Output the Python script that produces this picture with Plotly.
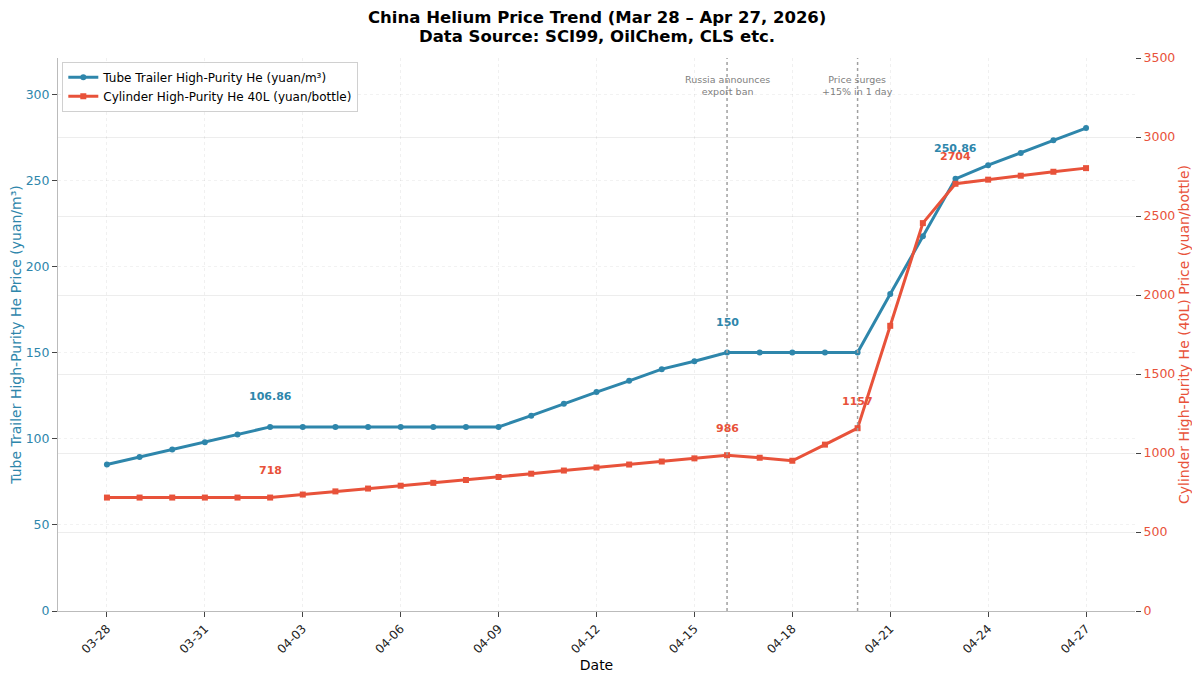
import plotly.graph_objects as go

# dates 03-28 .. 04-27 (2026)
dates = (["2026-03-%02d" % d for d in range(28, 32)]
         + ["2026-04-%02d" % d for d in range(1, 28)])

tube_price = [85.0, 89.4, 93.7, 98.0, 102.5, 106.86,
              106.86, 106.86, 106.86, 106.86, 106.86, 106.86, 106.86,
              113.4, 120.3, 127.1, 133.6, 140.4, 145.0,
              150, 150, 150, 150, 150,
              184.0, 217.5, 250.86, 258.8, 265.8, 273.2, 280.3]

cyl_price = [718, 718, 718, 718, 718, 718,
             737, 757, 775, 793, 811, 829, 848, 869, 889,
             908, 927, 946, 966, 986, 970, 951, 1053, 1157,
             1805, 2455, 2704, 2730, 2755, 2780, 2803]

tube_labels = {"2026-04-02": "106.86", "2026-04-16": "150", "2026-04-23": "250.86"}
cyl_labels = {"2026-04-02": "718", "2026-04-16": "986", "2026-04-20": "1157",
              "2026-04-23": "2704"}

event_dates = ["2026-04-16", "2026-04-20"]
event_texts = ["Russia announces<br>export ban", "Price surges<br>+15% in 1 day"]

BLUE = "#2E86AB"
RED = "#E8523A"
FONT = "DejaVu Sans"

fig = go.Figure()
fig.add_trace(go.Scatter(
    x=dates, y=tube_price, mode="lines+markers",
    name="Tube Trailer High-Purity He (yuan/m³)",
    line=dict(color=BLUE, width=3),
    marker=dict(symbol="circle", size=6, color=BLUE),
))
fig.add_trace(go.Scatter(
    x=dates, y=cyl_price, mode="lines+markers", yaxis="y2",
    name="Cylinder High-Purity He 40L (yuan/bottle)",
    line=dict(color=RED, width=3),
    marker=dict(symbol="square", size=6, color=RED),
))

annotations = []
for d, txt in tube_labels.items():
    annotations.append(dict(x=d, y=tube_price[dates.index(d)], xref="x", yref="y",
                            text="<b>%s</b>" % txt, showarrow=False, yshift=30,
                            font=dict(family=FONT, size=11, color=BLUE)))
for d, txt in cyl_labels.items():
    annotations.append(dict(x=d, y=cyl_price[dates.index(d)], xref="x", yref="y2",
                            text="<b>%s</b>" % txt, showarrow=False, yshift=27,
                            font=dict(family=FONT, size=11, color=RED)))
for d, txt in zip(event_dates, event_texts):
    annotations.append(dict(x=d, y=0.951, xref="x", yref="paper", text=txt,
                            showarrow=False, yanchor="middle",
                            font=dict(family=FONT, size=9.5, color="#808080")))

# two-line bold title
annotations.append(dict(x=0.5, y=1.073, xref="paper", yref="paper",
                        text="<b>China Helium Price Trend (Mar 28 – Apr 27, 2026)</b>",
                        showarrow=False, xanchor="center", yanchor="middle",
                        font=dict(family=FONT, size=16.5, color="black")))
annotations.append(dict(x=0.5, y=1.039, xref="paper", yref="paper",
                        text="<b>Data Source: SCI99, OilChem, CLS etc.</b>",
                        showarrow=False, xanchor="center", yanchor="middle",
                        font=dict(family=FONT, size=16.5, color="black")))

shapes = [dict(type="line", xref="x", yref="paper", x0=d, x1=d, y0=0, y1=1,
               line=dict(color="#A0A0A0", width=1.5, dash="dot"))
          for d in event_dates]

# page body adds an 8px margin, so the figure is 16px smaller each way
fig.update_layout(
    width=1184, height=665,
    paper_bgcolor="white", plot_bgcolor="white",
    font=dict(family=FONT, size=12, color="#222"),
    margin=dict(l=50, r=57, t=50, b=62, autoexpand=False),
    showlegend=True,
    legend=dict(x=0.004, y=0.993, xanchor="left", yanchor="top",
                bgcolor="rgba(255,255,255,0.9)", bordercolor="#D0D0D0",
                borderwidth=1, font=dict(family=FONT, size=12, color="black"),
                tracegroupgap=0),
    xaxis=dict(
        type="date", automargin=False,
        range=["2026-03-26 12:00", "2026-04-28 12:00"],
        tick0="2026-03-28", dtick=3 * 86400000, tickformat="%m-%d",
        tickangle=-45, ticks="outside", ticklen=5, tickcolor="#444",
        showline=True, linecolor="#BBBBBB", linewidth=1,
        showgrid=True, gridcolor="rgba(0,0,0,0.06)", griddash="dot",
        zeroline=False,
        title=dict(text="Date", font=dict(family=FONT, size=14, color="black"),
                   standoff=6),
        tickfont=dict(family=FONT, size=12, color="#222"),
    ),
    yaxis=dict(
        range=[0, 321], dtick=50, ticks="outside", ticklen=5, tickcolor="#444",
        automargin=False,
        showline=True, linecolor="#BBBBBB", linewidth=1,
        showgrid=True, gridcolor="rgba(0,0,0,0.05)", griddash="dot",
        zeroline=False,
        title=dict(text="Tube Trailer High-Purity He Price (yuan/m³)",
                   font=dict(family=FONT, size=14, color=BLUE), standoff=6),
        tickfont=dict(family=FONT, size=12.5, color=BLUE),
    ),
    yaxis2=dict(
        overlaying="y", side="right", anchor="x", automargin=False,
        range=[0, 3500], dtick=500, ticks="outside", ticklen=5, tickcolor="#444",
        showline=False, showgrid=True, gridcolor="rgba(0,0,0,0.07)",
        zeroline=False,
        title=dict(text="Cylinder High-Purity He (40L) Price (yuan/bottle)",
                   font=dict(family=FONT, size=14, color=RED), standoff=5),
        tickfont=dict(family=FONT, size=12.5, color=RED),
    ),
    annotations=annotations,
    shapes=shapes,
)

fig.write_html("out.html")
